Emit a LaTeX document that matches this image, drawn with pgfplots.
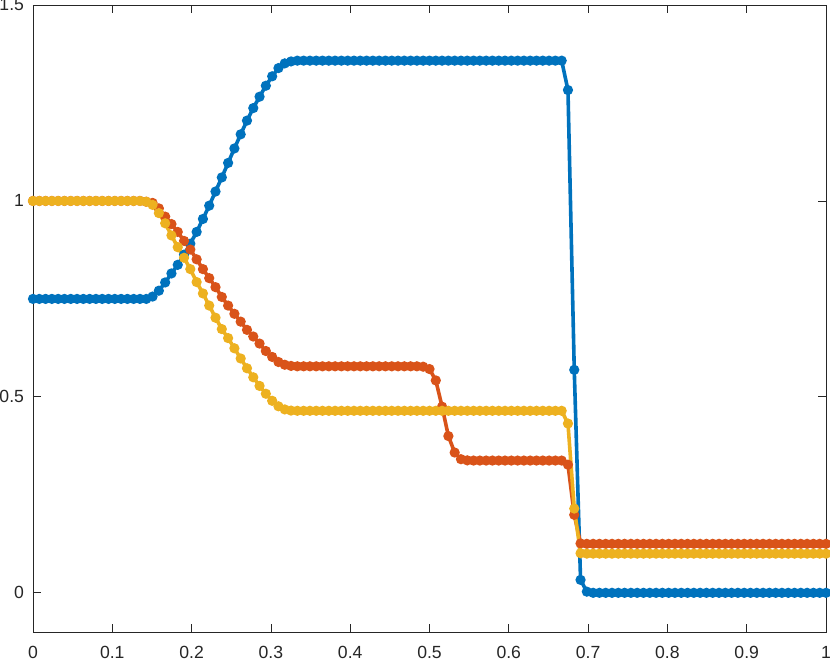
\documentclass[border=0pt]{standalone}
\usepackage{fontspec}
\setmainfont{Liberation Sans}
\usepackage{pgfplots}
\usepackage{pgfplotstable}
\pgfplotsset{compat=1.18}
\definecolor{mblue}{RGB}{0,114,189}
\definecolor{morange}{RGB}{217,83,25}
\definecolor{myellow}{RGB}{237,177,32}
\definecolor{axgray}{RGB}{38,38,38}

\pgfplotstableread{
x u rho p
0.00000 0.750 1.000 1.000
0.00794 0.750 1.000 1.000
0.01587 0.750 1.000 1.000
0.02381 0.750 1.000 1.000
0.03175 0.750 1.000 1.000
0.03968 0.750 1.000 1.000
0.04762 0.750 1.000 1.000
0.05556 0.750 1.000 1.000
0.06349 0.750 1.000 1.000
0.07143 0.750 1.000 1.000
0.07937 0.750 1.000 1.000
0.08730 0.750 1.000 1.000
0.09524 0.750 1.000 1.000
0.10317 0.750 1.000 1.000
0.11111 0.750 1.000 1.000
0.11905 0.750 1.000 1.000
0.12698 0.750 1.000 1.000
0.13492 0.750 1.000 1.000
0.14286 0.750 0.998 0.998
0.15079 0.756 0.995 0.990
0.15873 0.771 0.981 0.969
0.16667 0.792 0.960 0.943
0.17460 0.815 0.941 0.912
0.18254 0.837 0.921 0.882
0.19048 0.863 0.898 0.855
0.19841 0.891 0.876 0.826
0.20635 0.921 0.851 0.793
0.21429 0.954 0.826 0.764
0.22222 0.988 0.803 0.733
0.23016 1.024 0.780 0.702
0.23810 1.060 0.755 0.673
0.24603 1.097 0.733 0.650
0.25397 1.134 0.712 0.624
0.26190 1.170 0.692 0.598
0.26984 1.205 0.671 0.573
0.27778 1.237 0.654 0.550
0.28571 1.266 0.636 0.528
0.29365 1.294 0.617 0.508
0.30159 1.318 0.602 0.490
0.30952 1.339 0.589 0.476
0.31746 1.351 0.582 0.468
0.32540 1.356 0.579 0.465
0.33333 1.358 0.578 0.4645
0.34127 1.358 0.578 0.4645
0.34921 1.358 0.578 0.4645
0.35714 1.358 0.578 0.4645
0.36508 1.358 0.578 0.4645
0.37302 1.358 0.578 0.4645
0.38095 1.358 0.578 0.4645
0.38889 1.358 0.578 0.4645
0.39683 1.358 0.578 0.4645
0.40476 1.358 0.578 0.4645
0.41270 1.358 0.578 0.4645
0.42063 1.358 0.578 0.4645
0.42857 1.358 0.578 0.4645
0.43651 1.358 0.578 0.4645
0.44444 1.358 0.578 0.4645
0.45238 1.358 0.578 0.4645
0.46032 1.358 0.578 0.4645
0.46825 1.358 0.578 0.4645
0.47619 1.358 0.578 0.4645
0.48413 1.358 0.578 0.4645
0.49206 1.358 0.577 0.4645
0.50000 1.358 0.571 0.4645
0.50794 1.358 0.542 0.4645
0.51587 1.358 0.475 0.4645
0.52381 1.358 0.400 0.4645
0.53175 1.358 0.358 0.4645
0.53968 1.358 0.341 0.4645
0.54762 1.358 0.338 0.4645
0.55556 1.358 0.3375 0.4645
0.56349 1.358 0.3375 0.4645
0.57143 1.358 0.3375 0.4645
0.57937 1.358 0.3375 0.4645
0.58730 1.358 0.3375 0.4645
0.59524 1.358 0.3375 0.4645
0.60317 1.358 0.3375 0.4645
0.61111 1.358 0.3375 0.4645
0.61905 1.358 0.3375 0.4645
0.62698 1.358 0.3375 0.4645
0.63492 1.358 0.3375 0.4645
0.64286 1.358 0.3375 0.4645
0.65079 1.358 0.3375 0.4645
0.65873 1.358 0.3375 0.4645
0.66667 1.358 0.3375 0.4645
0.67460 1.283 0.327 0.432
0.68254 0.569 0.199 0.215
0.69048 0.033 0.126 0.101
0.69841 0.003 0.125 0.100
0.70635 0.000 0.125 0.100
0.71429 0.000 0.125 0.100
0.72222 0.000 0.125 0.100
0.73016 0.000 0.125 0.100
0.73810 0.000 0.125 0.100
0.74603 0.000 0.125 0.100
0.75397 0.000 0.125 0.100
0.76190 0.000 0.125 0.100
0.76984 0.000 0.125 0.100
0.77778 0.000 0.125 0.100
0.78571 0.000 0.125 0.100
0.79365 0.000 0.125 0.100
0.80159 0.000 0.125 0.100
0.80952 0.000 0.125 0.100
0.81746 0.000 0.125 0.100
0.82540 0.000 0.125 0.100
0.83333 0.000 0.125 0.100
0.84127 0.000 0.125 0.100
0.84921 0.000 0.125 0.100
0.85714 0.000 0.125 0.100
0.86508 0.000 0.125 0.100
0.87302 0.000 0.125 0.100
0.88095 0.000 0.125 0.100
0.88889 0.000 0.125 0.100
0.89683 0.000 0.125 0.100
0.90476 0.000 0.125 0.100
0.91270 0.000 0.125 0.100
0.92063 0.000 0.125 0.100
0.92857 0.000 0.125 0.100
0.93651 0.000 0.125 0.100
0.94444 0.000 0.125 0.100
0.95238 0.000 0.125 0.100
0.96032 0.000 0.125 0.100
0.96825 0.000 0.125 0.100
0.97619 0.000 0.125 0.100
0.98413 0.000 0.125 0.100
0.99206 0.000 0.125 0.100
1.00000 0.000 0.125 0.100
}\datatable

\begin{document}
\begin{tikzpicture}
\begin{axis}[
  scale only axis, width=396.5pt, height=313.5pt,
  xmin=0, xmax=1, ymin=-0.1, ymax=1.5,
  xtick={0,0.1,0.2,0.3,0.4,0.5,0.6,0.7,0.8,0.9,1},
  xticklabels={0,0.1,0.2,0.3,0.4,0.5,0.6,0.7,0.8,0.9,1},
  ytick={0,0.5,1,1.5},
  yticklabels={0,0.5,1,1.5},
  tick align=inside, xtick pos=both, ytick pos=both,
  major tick length=4pt,
  axis line style={axgray, line width=0.4pt},
  tick style={axgray, line width=0.4pt},
  ticklabel style={font=\fontsize{8.8}{10}\selectfont, text=axgray},
  /pgf/number format/assume math mode=true,
  xticklabel style={yshift=-3.5pt},
  yticklabel style={xshift=-1pt},
  clip=false,
]
\addplot[mblue, line width=1.8pt, mark=*, mark size=1.6pt, mark options={solid, fill=mblue, draw=none}] table[x=x, y=u] {\datatable};
\addplot[morange, line width=1.8pt, mark=*, mark size=1.6pt, mark options={solid, fill=morange, draw=none}] table[x=x, y=rho] {\datatable};
\addplot[myellow, line width=1.8pt, mark=*, mark size=1.6pt, mark options={solid, fill=myellow, draw=none}] table[x=x, y=p] {\datatable};
\end{axis}
\pgfresetboundingbox
\path[use as bounding box] ([xshift=-16.5pt,yshift=-14pt]current axis.south west) rectangle ([xshift=2pt,yshift=2.5pt]current axis.north east);
\end{tikzpicture}
\end{document}
